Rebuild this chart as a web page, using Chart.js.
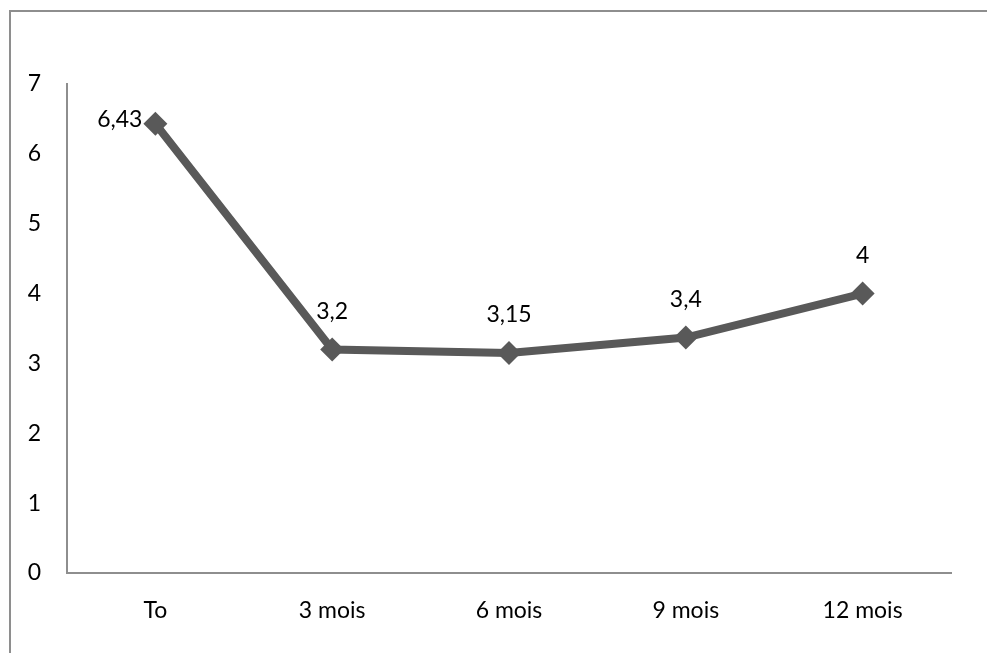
<!DOCTYPE html>
<html>
<head>
<meta charset="utf-8">
<script src="https://cdn.jsdelivr.net/npm/chart.js@4"></script>
<style>
    html, body { margin: 0; padding: 0; background: #fff; overflow: hidden; }
    canvas { display: block; }
</style>
</head>
<body>
<canvas id="chart" width="987" height="653"></canvas>
<script>
const categories = ['To', '3 mois', '6 mois', '9 mois', '12 mois'];
const values = [6.43, 3.2, 3.15, 3.37, 4];
const pointLabels = ['6,43', '3,2', '3,15', '3,4', '4'];
const yTicks = [0, 1, 2, 3, 4, 5, 6, 7];

const FONT = 'Lato, "Open Sans", sans-serif';
const FONT_SIZE = 23;

// outer frame: only the left and top edges are visible
const frame = {
    id: 'frame',
    beforeDraw(chart) {
        const ctx = chart.ctx;
        ctx.save();
        ctx.strokeStyle = '#8e8e8e';
        ctx.lineWidth = 2;
        ctx.beginPath();
        ctx.moveTo(10, chart.height);
        ctx.lineTo(10, 11);
        ctx.lineTo(chart.width, 11);
        ctx.stroke();
        ctx.restore();
    }
};

// draws the value labels next to each point
const valueLabels = {
    id: 'valueLabels',
    afterDatasetsDraw(chart) {
        const ctx = chart.ctx;
        const meta = chart.getDatasetMeta(0);
        ctx.save();
        ctx.font = FONT_SIZE + 'px ' + FONT;
        ctx.fillStyle = '#000';
        ctx.textBaseline = 'middle';
        meta.data.forEach((pt, i) => {
            if (i === 0) {
                ctx.textAlign = 'right';
                ctx.fillText(pointLabels[i], pt.x - 13, pt.y - 4);
            } else {
                ctx.textAlign = 'center';
                ctx.fillText(pointLabels[i], pt.x, pt.y - 38);
            }
        });
        ctx.restore();
    }
};

new Chart(document.getElementById('chart'), {
    type: 'line',
    data: {
        labels: categories,
        datasets: [{
            data: values,
            borderColor: '#595959',
            backgroundColor: '#595959',
            borderWidth: 8,
            pointStyle: 'rectRot',
            pointRadius: 12,
            pointBorderWidth: 0,
            tension: 0
        }]
    },
    options: {
        responsive: false,
        animation: false,
        layout: { padding: { top: 84, right: 36, left: 0, bottom: 0 } },
        plugins: {
            legend: { display: false },
            tooltip: { enabled: false }
        },
        scales: {
            x: {
                offset: true,
                grid: { display: false, drawTicks: false },
                border: { display: true, color: '#8e8e8e', width: 2 },
                ticks: { color: '#000', font: { family: FONT, size: FONT_SIZE }, padding: 24 },
                afterFit(scale) { scale.height = 80; }
            },
            y: {
                min: 0,
                max: 7,
                afterBuildTicks(scale) { scale.ticks = yTicks.map(v => ({ value: v })); },
                grid: { display: false, drawTicks: false },
                border: { display: true, color: '#8e8e8e', width: 2 },
                ticks: { color: '#000', font: { family: FONT, size: FONT_SIZE }, padding: 26 },
                afterFit(scale) { scale.width = 67; }
            }
        }
    },
    plugins: [frame, valueLabels]
});
</script>
</body>
</html>
